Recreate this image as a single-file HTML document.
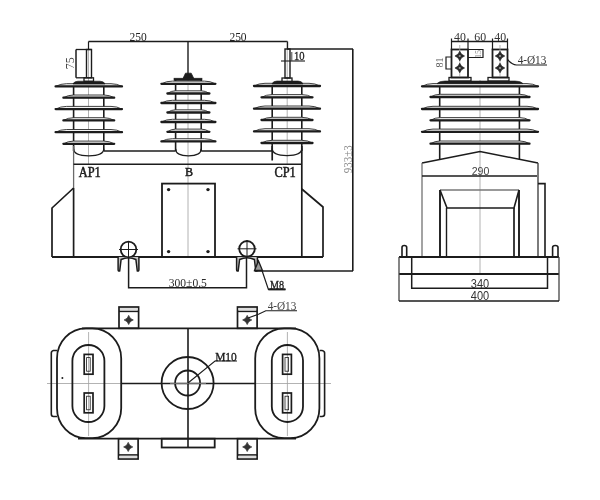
<!DOCTYPE html>
<html><head><meta charset="utf-8"><style>
html,body{margin:0;padding:0;background:#fff;width:600px;height:500px;overflow:hidden}
svg{display:block;filter:grayscale(100%)}
</style></head><body>
<svg width="600" height="500" viewBox="0 0 600 500">
<rect width="600" height="500" fill="#fff"/>
<line x1="88.5" y1="41.5" x2="287.5" y2="41.5" stroke="#1c1c1c" stroke-width="1.4" />
<text x="0" y="0" font-family="Liberation Serif" font-size="12.5" font-weight="normal" text-anchor="middle" fill="#222" transform="translate(138.2 41) scale(0.92 1)" >250</text>
<text x="0" y="0" font-family="Liberation Serif" font-size="12.5" font-weight="normal" text-anchor="middle" fill="#222" transform="translate(238 41) scale(0.92 1)" >250</text>
<line x1="88.5" y1="41.5" x2="88.5" y2="164" stroke="#a0a0a0" stroke-width="0.8" />
<line x1="287.2" y1="41.5" x2="287.2" y2="164" stroke="#a0a0a0" stroke-width="0.8" />
<line x1="188" y1="74" x2="188" y2="257" stroke="#a0a0a0" stroke-width="0.8" />
<line x1="73.6" y1="83" x2="73.6" y2="151" stroke="#1c1c1c" stroke-width="1.6" />
<line x1="103.8" y1="83" x2="103.8" y2="151" stroke="#1c1c1c" stroke-width="1.6" />
<path d="M55.599999999999994,86.4 Q60.55,83.7 66.6,83.7 L111.0,83.7 Q117.05,83.7 122.0,86.4 Z" fill="#f4f4f4" stroke="#2a2a2a" stroke-width="0.9"/>
<path d="M55.599999999999994,86.4 L122.0,86.4" stroke="#1c1c1c" stroke-width="2.3" stroke-linecap="round"/>
<path d="M63.4,97.7 Q68.035,95.0 73.69999999999999,95.0 L103.89999999999999,95.0 Q109.56499999999998,95.0 114.19999999999999,97.7 Z" fill="#f4f4f4" stroke="#2a2a2a" stroke-width="0.9"/>
<path d="M63.4,97.7 L114.19999999999999,97.7" stroke="#1c1c1c" stroke-width="2.3" stroke-linecap="round"/>
<path d="M55.599999999999994,109.1 Q60.55,106.39999999999999 66.6,106.39999999999999 L111.0,106.39999999999999 Q117.05,106.39999999999999 122.0,109.1 Z" fill="#f4f4f4" stroke="#2a2a2a" stroke-width="0.9"/>
<path d="M55.599999999999994,109.1 L122.0,109.1" stroke="#1c1c1c" stroke-width="2.3" stroke-linecap="round"/>
<path d="M63.4,120.4 Q68.035,117.7 73.69999999999999,117.7 L103.89999999999999,117.7 Q109.56499999999998,117.7 114.19999999999999,120.4 Z" fill="#f4f4f4" stroke="#2a2a2a" stroke-width="0.9"/>
<path d="M63.4,120.4 L114.19999999999999,120.4" stroke="#1c1c1c" stroke-width="2.3" stroke-linecap="round"/>
<path d="M55.599999999999994,132.2 Q60.55,129.5 66.6,129.5 L111.0,129.5 Q117.05,129.5 122.0,132.2 Z" fill="#f4f4f4" stroke="#2a2a2a" stroke-width="0.9"/>
<path d="M55.599999999999994,132.2 L122.0,132.2" stroke="#1c1c1c" stroke-width="2.3" stroke-linecap="round"/>
<path d="M63.4,143.8 Q68.035,141.10000000000002 73.69999999999999,141.10000000000002 L103.89999999999999,141.10000000000002 Q109.56499999999998,141.10000000000002 114.19999999999999,143.8 Z" fill="#f4f4f4" stroke="#2a2a2a" stroke-width="0.9"/>
<path d="M63.4,143.8 L114.19999999999999,143.8" stroke="#1c1c1c" stroke-width="2.3" stroke-linecap="round"/>
<path d="M73.6,148.8 C73.6,154.3 80.6,155.8 88.8,155.8 C96.8,155.8 103.8,154.3 103.8,148.8" fill="none" stroke="#1c1c1c" stroke-width="1.3"/>
<rect x="86.5" y="49.5" width="5" height="28.3" fill="none" stroke="#1c1c1c" stroke-width="1.4"/>
<line x1="88.5" y1="41.5" x2="88.5" y2="49.5" stroke="#1c1c1c" stroke-width="1.2" />
<line x1="76" y1="49.5" x2="91.5" y2="49.5" stroke="#1c1c1c" stroke-width="1.3" />
<line x1="76" y1="49.5" x2="76" y2="77.8" stroke="#1c1c1c" stroke-width="1.5" />
<line x1="76" y1="77.8" x2="86" y2="77.8" stroke="#1c1c1c" stroke-width="1.3" />
<text x="0" y="0" font-family="Liberation Serif" font-size="12.5" font-weight="normal" text-anchor="middle" fill="#444" transform="translate(73.6 63.2) rotate(-90) scale(0.95 1)" >75</text>
<rect x="84" y="77.8" width="9.5" height="3.5" fill="none" stroke="#1c1c1c" stroke-width="1.3"/>
<path d="M73,84 Q74,81.2 78,81.2 L100,81.2 Q104,81.2 105,84 Z" fill="#1c1c1c" stroke="#1c1c1c" stroke-width="0.6" />
<line x1="175.6" y1="79" x2="175.6" y2="151" stroke="#1c1c1c" stroke-width="1.6" />
<line x1="201.2" y1="79" x2="201.2" y2="151" stroke="#1c1c1c" stroke-width="1.6" />
<path d="M161.4,83.8 Q166.35,81.1 172.4,81.1 L204.4,81.1 Q210.45000000000002,81.1 215.4,83.8 Z" fill="#f4f4f4" stroke="#2a2a2a" stroke-width="0.9"/>
<path d="M161.4,83.8 L215.4,83.8" stroke="#1c1c1c" stroke-width="2.3" stroke-linecap="round"/>
<path d="M167.4,93.5 Q171.09,90.8 175.60000000000002,90.8 L201.2,90.8 Q205.71,90.8 209.4,93.5 Z" fill="#f4f4f4" stroke="#2a2a2a" stroke-width="0.9"/>
<path d="M167.4,93.5 L209.4,93.5" stroke="#1c1c1c" stroke-width="2.3" stroke-linecap="round"/>
<path d="M161.4,103 Q166.35,100.3 172.4,100.3 L204.4,100.3 Q210.45000000000002,100.3 215.4,103 Z" fill="#f4f4f4" stroke="#2a2a2a" stroke-width="0.9"/>
<path d="M161.4,103 L215.4,103" stroke="#1c1c1c" stroke-width="2.3" stroke-linecap="round"/>
<path d="M167.4,112.5 Q171.09,109.8 175.60000000000002,109.8 L201.2,109.8 Q205.71,109.8 209.4,112.5 Z" fill="#f4f4f4" stroke="#2a2a2a" stroke-width="0.9"/>
<path d="M167.4,112.5 L209.4,112.5" stroke="#1c1c1c" stroke-width="2.3" stroke-linecap="round"/>
<path d="M161.4,122 Q166.35,119.3 172.4,119.3 L204.4,119.3 Q210.45000000000002,119.3 215.4,122 Z" fill="#f4f4f4" stroke="#2a2a2a" stroke-width="0.9"/>
<path d="M161.4,122 L215.4,122" stroke="#1c1c1c" stroke-width="2.3" stroke-linecap="round"/>
<path d="M167.4,131.8 Q171.09,129.10000000000002 175.60000000000002,129.10000000000002 L201.2,129.10000000000002 Q205.71,129.10000000000002 209.4,131.8 Z" fill="#f4f4f4" stroke="#2a2a2a" stroke-width="0.9"/>
<path d="M167.4,131.8 L209.4,131.8" stroke="#1c1c1c" stroke-width="2.3" stroke-linecap="round"/>
<path d="M161.4,141.4 Q166.35,138.70000000000002 172.4,138.70000000000002 L204.4,138.70000000000002 Q210.45000000000002,138.70000000000002 215.4,141.4 Z" fill="#f4f4f4" stroke="#2a2a2a" stroke-width="0.9"/>
<path d="M161.4,141.4 L215.4,141.4" stroke="#1c1c1c" stroke-width="2.3" stroke-linecap="round"/>
<path d="M175.6,148.8 C175.6,154.3 182.6,155.8 188.4,155.8 C194.2,155.8 201.2,154.3 201.2,148.8" fill="none" stroke="#1c1c1c" stroke-width="1.3"/>
<line x1="188" y1="41.5" x2="188" y2="74" stroke="#1c1c1c" stroke-width="1.4" />
<path d="M183,78.5 L185.5,73.2 L191.2,73.2 L193.8,78.5 Z" fill="#1c1c1c" stroke="#1c1c1c" stroke-width="0.8" />
<rect x="174" y="78.2" width="28" height="2.2" fill="#1c1c1c" stroke="#1c1c1c" stroke-width="0.6"/>
<line x1="272.2" y1="83" x2="272.2" y2="151" stroke="#1c1c1c" stroke-width="1.6" />
<line x1="301.8" y1="83" x2="301.8" y2="151" stroke="#1c1c1c" stroke-width="1.6" />
<path d="M254,86 Q258.95,83.3 265,83.3 L309,83.3 Q315.05,83.3 320,86 Z" fill="#f4f4f4" stroke="#2a2a2a" stroke-width="0.9"/>
<path d="M254,86 L320,86" stroke="#1c1c1c" stroke-width="2.3" stroke-linecap="round"/>
<path d="M261.5,97.3 Q266.315,94.6 272.2,94.6 L301.8,94.6 Q307.685,94.6 312.5,97.3 Z" fill="#f4f4f4" stroke="#2a2a2a" stroke-width="0.9"/>
<path d="M261.5,97.3 L312.5,97.3" stroke="#1c1c1c" stroke-width="2.3" stroke-linecap="round"/>
<path d="M254,108.7 Q258.95,106.0 265,106.0 L309,106.0 Q315.05,106.0 320,108.7 Z" fill="#f4f4f4" stroke="#2a2a2a" stroke-width="0.9"/>
<path d="M254,108.7 L320,108.7" stroke="#1c1c1c" stroke-width="2.3" stroke-linecap="round"/>
<path d="M261.5,120 Q266.315,117.3 272.2,117.3 L301.8,117.3 Q307.685,117.3 312.5,120 Z" fill="#f4f4f4" stroke="#2a2a2a" stroke-width="0.9"/>
<path d="M261.5,120 L312.5,120" stroke="#1c1c1c" stroke-width="2.3" stroke-linecap="round"/>
<path d="M254,131.4 Q258.95,128.70000000000002 265,128.70000000000002 L309,128.70000000000002 Q315.05,128.70000000000002 320,131.4 Z" fill="#f4f4f4" stroke="#2a2a2a" stroke-width="0.9"/>
<path d="M254,131.4 L320,131.4" stroke="#1c1c1c" stroke-width="2.3" stroke-linecap="round"/>
<path d="M261.5,143 Q266.315,140.3 272.2,140.3 L301.8,140.3 Q307.685,140.3 312.5,143 Z" fill="#f4f4f4" stroke="#2a2a2a" stroke-width="0.9"/>
<path d="M261.5,143 L312.5,143" stroke="#1c1c1c" stroke-width="2.3" stroke-linecap="round"/>
<path d="M272.2,148.6 C272.2,154.1 279.2,155.6 287,155.6 C294.8,155.6 301.8,154.1 301.8,148.6" fill="none" stroke="#1c1c1c" stroke-width="1.3"/>
<line x1="287.5" y1="41.5" x2="287.5" y2="49.5" stroke="#1c1c1c" stroke-width="1.3" />
<rect x="285" y="49" width="5" height="29" fill="none" stroke="#1c1c1c" stroke-width="1.4"/>
<line x1="287.5" y1="49" x2="353" y2="49" stroke="#1c1c1c" stroke-width="1.3" />
<line x1="281" y1="61" x2="305" y2="61" stroke="#1c1c1c" stroke-width="1.1" />
<text x="0" y="0" font-family="Liberation Serif" font-size="11.5" font-weight="normal" text-anchor="middle" fill="#222" stroke="#222" stroke-width="0.3" transform="translate(299.2 60.4) scale(0.92 1)" >10</text>
<line x1="291.8" y1="52" x2="291.8" y2="61" stroke="#444" stroke-width="1.0" />
<rect x="282" y="78" width="10" height="4" fill="none" stroke="#1c1c1c" stroke-width="1.3"/>
<path d="M272,84 Q273,81 277,81 L298,81 Q302,81 303,84 Z" fill="#1c1c1c" stroke="#1c1c1c" stroke-width="0.6" />
<line x1="103.8" y1="151" x2="175.6" y2="151" stroke="#1c1c1c" stroke-width="1.6" />
<line x1="201.2" y1="151" x2="272.2" y2="151" stroke="#1c1c1c" stroke-width="1.6" />
<line x1="73.6" y1="146" x2="73.6" y2="188" stroke="#6a6a6a" stroke-width="1.3" />
<line x1="73.6" y1="188" x2="73.6" y2="257" stroke="#1c1c1c" stroke-width="1.7" />
<line x1="272.2" y1="146" x2="272.2" y2="160.5" stroke="#1c1c1c" stroke-width="1.7" />
<line x1="73.6" y1="164.3" x2="301.8" y2="164.3" stroke="#1c1c1c" stroke-width="1.6" />
<line x1="301.8" y1="146" x2="301.8" y2="257" stroke="#1c1c1c" stroke-width="1.7" />
<text x="0" y="0" font-family="Liberation Serif" font-size="13.8" font-weight="normal" text-anchor="middle" fill="#1a1a1a" stroke="#1a1a1a" stroke-width="0.5" transform="translate(89.7 177) scale(0.9 1)" >AP1</text>
<text x="0" y="0" font-family="Liberation Serif" font-size="13.4" font-weight="normal" text-anchor="middle" fill="#1a1a1a" stroke="#1a1a1a" stroke-width="0.5" transform="translate(189.1 176.3) scale(0.9 1)" >B</text>
<text x="0" y="0" font-family="Liberation Serif" font-size="13.8" font-weight="normal" text-anchor="middle" fill="#1a1a1a" stroke="#1a1a1a" stroke-width="0.5" transform="translate(285.1 177.2) scale(0.9 1)" >CP1</text>
<polyline points="73.6,188 52,208 52,257" fill="none" stroke="#1c1c1c" stroke-width="1.7"/>
<polyline points="301.8,189 323,207 323,257" fill="none" stroke="#1c1c1c" stroke-width="1.7"/>
<line x1="52" y1="257" x2="323" y2="257" stroke="#1c1c1c" stroke-width="1.8" />
<rect x="162" y="183.6" width="53" height="73.4" fill="none" stroke="#1c1c1c" stroke-width="1.8"/>
<circle cx="168.6" cy="189.6" r="1.7" fill="#1c1c1c" stroke="#1c1c1c" stroke-width="0"/>
<circle cx="208" cy="189.6" r="1.7" fill="#1c1c1c" stroke="#1c1c1c" stroke-width="0"/>
<circle cx="168.6" cy="251.6" r="1.7" fill="#1c1c1c" stroke="#1c1c1c" stroke-width="0"/>
<circle cx="208" cy="251.6" r="1.7" fill="#1c1c1c" stroke="#1c1c1c" stroke-width="0"/>
<circle cx="128.5" cy="249.5" r="7.8" fill="#fff" stroke="#1c1c1c" stroke-width="1.8"/>
<line x1="119.0" y1="249.5" x2="138.0" y2="249.5" stroke="#1c1c1c" stroke-width="1.0" />
<line x1="128.5" y1="241.0" x2="128.5" y2="258.0" stroke="#1c1c1c" stroke-width="1.0" />
<path d="M118.1,257 L118.1,269.5 Q118.1,271.5 119.7,271 L121.1,259.5 Q128.5,256 135.9,259.5 L137.3,271 Q138.9,271.5 138.9,269.5 L138.9,257" fill="#c4c4c4" stroke="#1c1c1c" stroke-width="1.5"/>
<circle cx="247" cy="248.8" r="7.8" fill="#fff" stroke="#1c1c1c" stroke-width="1.8"/>
<line x1="237.5" y1="248.8" x2="256.5" y2="248.8" stroke="#1c1c1c" stroke-width="1.0" />
<line x1="247" y1="240.3" x2="247" y2="257.3" stroke="#1c1c1c" stroke-width="1.0" />
<path d="M236.6,257 L236.6,269.5 Q236.6,271.5 238.2,271 L239.6,259.5 Q247,256 254.4,259.5 L255.8,271 Q257.4,271.5 257.4,269.5 L257.4,257" fill="#c4c4c4" stroke="#1c1c1c" stroke-width="1.5"/>
<polyline points="128.6,257 128.6,287.8 246.5,287.8 246.5,257" fill="none" stroke="#1c1c1c" stroke-width="1.5"/>
<text x="0" y="0" font-family="Liberation Serif" font-size="12.6" font-weight="normal" text-anchor="middle" fill="#2a2a2a" transform="translate(187.8 287) scale(0.92 1)" >300±0.5</text>
<path d="M254.5,270.5 L258.5,261 L262.5,270.5 Z" fill="#999" stroke="#1c1c1c" stroke-width="1.3" />
<polyline points="262,270.5 268.4,289.4 285.5,289.4" fill="none" stroke="#1c1c1c" stroke-width="1.2"/>
<line x1="268.4" y1="289.4" x2="285.5" y2="289.4" stroke="#1c1c1c" stroke-width="2.0" />
<text x="0" y="0" font-family="Liberation Serif" font-size="11.5" font-weight="normal" text-anchor="middle" fill="#222" stroke="#222" stroke-width="0.3" transform="translate(277 288.6) scale(0.88 1)" >M8</text>
<line x1="254.5" y1="270.9" x2="353" y2="270.9" stroke="#1c1c1c" stroke-width="1.5" />
<line x1="352.8" y1="49" x2="352.8" y2="270.9" stroke="#1c1c1c" stroke-width="1.6" />
<text x="0" y="0" font-family="Liberation Serif" font-size="12" font-weight="normal" text-anchor="middle" fill="#8a8a8a" transform="translate(351.6 159.3) rotate(-90) scale(0.92 1)" >933±3</text>
<line x1="47" y1="383.5" x2="331" y2="383.5" stroke="#a0a0a0" stroke-width="0.8" />
<line x1="88.6" y1="332" x2="88.6" y2="436" stroke="#a0a0a0" stroke-width="0.8" />
<line x1="287.4" y1="332" x2="287.4" y2="436" stroke="#a0a0a0" stroke-width="0.8" />
<line x1="82" y1="328.3" x2="296" y2="328.3" stroke="#1c1c1c" stroke-width="1.8" />
<line x1="78" y1="438.7" x2="296" y2="438.7" stroke="#1c1c1c" stroke-width="1.8" />
<line x1="121.6" y1="383.5" x2="255" y2="383.5" stroke="#1c1c1c" stroke-width="1.6" />
<line x1="188" y1="328.3" x2="188" y2="447.5" stroke="#1c1c1c" stroke-width="1.6" />
<rect x="57" y="328.4" width="64.2" height="109.80000000000001" rx="29" ry="30" fill="none" stroke="#1c1c1c" stroke-width="1.8"/>
<path d="M72.4,361.0 A16.0,16.0 0 0 1 104.4,361.0 L104.4,406.0 A16.0,16.0 0 0 1 72.4,406.0 Z" fill="none" stroke="#1c1c1c" stroke-width="1.8"/>
<path d="M57,350.5 L53.5,350.5 Q51.3,351 51.3,353 L51.3,414 Q51.3,416.5 53.5,416.5 L57,416.5" fill="none" stroke="#1c1c1c" stroke-width="1.6" />
<rect x="84.2" y="354.4" width="8.8" height="19.8" fill="none" stroke="#1c1c1c" stroke-width="1.7"/>
<rect x="86.6" y="357.59999999999997" width="3.6" height="13.6" fill="none" stroke="#1c1c1c" stroke-width="0.8"/>
<rect x="84.2" y="393" width="8.8" height="19.8" fill="none" stroke="#1c1c1c" stroke-width="1.7"/>
<rect x="86.6" y="396.2" width="3.6" height="13.6" fill="none" stroke="#1c1c1c" stroke-width="0.8"/>
<circle cx="62.4" cy="378" r="1.0" fill="#1c1c1c" stroke="#1c1c1c" stroke-width="0"/>
<rect x="255.2" y="328.4" width="64.19999999999999" height="109.80000000000001" rx="29" ry="30" fill="none" stroke="#1c1c1c" stroke-width="1.8"/>
<path d="M271.8,360.6 A15.599999999999994,15.599999999999994 0 0 1 303,360.6 L303,406.4 A15.599999999999994,15.599999999999994 0 0 1 271.8,406.4 Z" fill="none" stroke="#1c1c1c" stroke-width="1.8"/>
<path d="M319.6,350.5 L322,350.5 Q324.6,351 324.6,353 L324.6,414 Q324.6,416.5 322,416.5 L319.6,416.5" fill="none" stroke="#1c1c1c" stroke-width="1.6" />
<rect x="282.6" y="354.4" width="8.8" height="19.8" fill="none" stroke="#1c1c1c" stroke-width="1.7"/>
<rect x="285.0" y="357.59999999999997" width="3.6" height="13.6" fill="none" stroke="#1c1c1c" stroke-width="0.8"/>
<rect x="282.6" y="393" width="8.8" height="19.8" fill="none" stroke="#1c1c1c" stroke-width="1.7"/>
<rect x="285.0" y="396.2" width="3.6" height="13.6" fill="none" stroke="#1c1c1c" stroke-width="0.8"/>
<circle cx="187.6" cy="383" r="26" fill="none" stroke="#1c1c1c" stroke-width="1.8"/>
<circle cx="187.6" cy="383" r="12.5" fill="none" stroke="#1c1c1c" stroke-width="1.8"/>
<line x1="170" y1="383.3" x2="206" y2="383.3" stroke="#a0a0a0" stroke-width="0.8" />
<polyline points="188,383 215,361 237,361" fill="none" stroke="#1c1c1c" stroke-width="1.1"/>
<text x="0" y="0" font-family="Liberation Serif" font-size="13.5" font-weight="normal" text-anchor="middle" fill="#1a1a1a" stroke="#1a1a1a" stroke-width="0.35" transform="translate(226 361) scale(0.85 1)" >M10</text>
<rect x="161.7" y="438.7" width="53" height="8.8" fill="none" stroke="#1c1c1c" stroke-width="1.8"/>
<rect x="119" y="307" width="19.6" height="21.30000000000001" fill="none" stroke="#1c1c1c" stroke-width="1.7"/>
<line x1="119" y1="311.3" x2="138.6" y2="311.3" stroke="#1c1c1c" stroke-width="1.7" />
<rect x="120" y="308" width="17.6" height="2.6" fill="#ddd"/>
<path d="M124.1,319.95 Q127.69999999999999,318.95 128.7,315.34999999999997 Q129.7,318.95 133.29999999999998,319.95 Q129.7,320.95 128.7,324.55 Q127.69999999999999,320.95 124.1,319.95 Z" fill="#333" stroke="#1c1c1c" stroke-width="0.6" />
<rect x="237.5" y="307" width="19.6" height="21.30000000000001" fill="none" stroke="#1c1c1c" stroke-width="1.7"/>
<line x1="237.5" y1="311.3" x2="257.1" y2="311.3" stroke="#1c1c1c" stroke-width="1.7" />
<rect x="238.5" y="308" width="17.6" height="2.6" fill="#ddd"/>
<path d="M242.6,319.95 Q246.2,318.95 247.2,315.34999999999997 Q248.2,318.95 251.79999999999998,319.95 Q248.2,320.95 247.2,324.55 Q246.2,320.95 242.6,319.95 Z" fill="#333" stroke="#1c1c1c" stroke-width="0.6" />
<rect x="118.5" y="438.7" width="19.6" height="20.30000000000001" fill="none" stroke="#1c1c1c" stroke-width="1.7"/>
<line x1="118.5" y1="455.0" x2="138.1" y2="455.0" stroke="#1c1c1c" stroke-width="1.7" />
<rect x="119.5" y="455.7" width="17.6" height="2.4" fill="#ddd"/>
<path d="M123.6,446.95000000000005 Q127.19999999999999,445.95000000000005 128.2,442.35 Q129.2,445.95000000000005 132.79999999999998,446.95000000000005 Q129.2,447.95000000000005 128.2,451.55000000000007 Q127.19999999999999,447.95000000000005 123.6,446.95000000000005 Z" fill="#333" stroke="#1c1c1c" stroke-width="0.6" />
<rect x="237.5" y="438.7" width="19.6" height="20.30000000000001" fill="none" stroke="#1c1c1c" stroke-width="1.7"/>
<line x1="237.5" y1="455.0" x2="257.1" y2="455.0" stroke="#1c1c1c" stroke-width="1.7" />
<rect x="238.5" y="455.7" width="17.6" height="2.4" fill="#ddd"/>
<path d="M242.6,446.95000000000005 Q246.2,445.95000000000005 247.2,442.35 Q248.2,445.95000000000005 251.79999999999998,446.95000000000005 Q248.2,447.95000000000005 247.2,451.55000000000007 Q246.2,447.95000000000005 242.6,446.95000000000005 Z" fill="#333" stroke="#1c1c1c" stroke-width="0.6" />
<polyline points="248,318 259,314 265.8,310.8 297,310.8" fill="none" stroke="#1c1c1c" stroke-width="1.1"/>
<text x="0" y="0" font-family="Liberation Serif" font-size="12.5" font-weight="normal" text-anchor="middle" fill="#444" transform="translate(282 310.3) scale(0.9 1)" >4-Ø13</text>
<line x1="480" y1="80" x2="480" y2="274" stroke="#a0a0a0" stroke-width="0.8" />
<line x1="451.5" y1="41.5" x2="507.5" y2="41.5" stroke="#1c1c1c" stroke-width="1.3" />
<line x1="451.5" y1="38.5" x2="451.5" y2="50" stroke="#1c1c1c" stroke-width="1.2" />
<line x1="468" y1="38.5" x2="468" y2="50" stroke="#1c1c1c" stroke-width="1.2" />
<line x1="492.5" y1="38.5" x2="492.5" y2="50" stroke="#1c1c1c" stroke-width="1.2" />
<line x1="507.5" y1="38.5" x2="507.5" y2="50" stroke="#1c1c1c" stroke-width="1.2" />
<text x="0" y="0" font-family="Liberation Serif" font-size="12.5" font-weight="normal" text-anchor="middle" fill="#333" transform="translate(460 41) scale(0.95 1)" >40</text>
<text x="0" y="0" font-family="Liberation Serif" font-size="12.5" font-weight="normal" text-anchor="middle" fill="#333" transform="translate(480.3 41) scale(0.95 1)" >60</text>
<text x="0" y="0" font-family="Liberation Serif" font-size="12.5" font-weight="normal" text-anchor="middle" fill="#333" transform="translate(500.3 41) scale(0.95 1)" >40</text>
<rect x="451.5" y="49.5" width="16.5" height="28" fill="none" stroke="#1c1c1c" stroke-width="1.8"/>
<line x1="459.75" y1="45" x2="459.75" y2="78" stroke="#a0a0a0" stroke-width="0.8" />
<path d="M454.95,56 Q458.55,54.8 459.75,51.2 Q460.95,54.8 464.55,56 Q460.95,57.2 459.75,60.8 Q458.55,57.2 454.95,56 Z" fill="#2a2a2a" stroke="#1c1c1c" stroke-width="0.6" />
<circle cx="459.75" cy="56" r="1.1" fill="#999" stroke="#1c1c1c" stroke-width="0"/>
<path d="M454.95,68 Q458.55,66.8 459.75,63.2 Q460.95,66.8 464.55,68 Q460.95,69.2 459.75,72.8 Q458.55,69.2 454.95,68 Z" fill="#2a2a2a" stroke="#1c1c1c" stroke-width="0.6" />
<circle cx="459.75" cy="68" r="1.1" fill="#999" stroke="#1c1c1c" stroke-width="0"/>
<rect x="492.5" y="49.5" width="15.0" height="28" fill="none" stroke="#1c1c1c" stroke-width="1.8"/>
<line x1="500.0" y1="45" x2="500.0" y2="78" stroke="#a0a0a0" stroke-width="0.8" />
<path d="M495.2,56 Q498.8,54.8 500.0,51.2 Q501.2,54.8 504.8,56 Q501.2,57.2 500.0,60.8 Q498.8,57.2 495.2,56 Z" fill="#2a2a2a" stroke="#1c1c1c" stroke-width="0.6" />
<circle cx="500.0" cy="56" r="1.1" fill="#999" stroke="#1c1c1c" stroke-width="0"/>
<path d="M495.2,68 Q498.8,66.8 500.0,63.2 Q501.2,66.8 504.8,68 Q501.2,69.2 500.0,72.8 Q498.8,69.2 495.2,68 Z" fill="#2a2a2a" stroke="#1c1c1c" stroke-width="0.6" />
<circle cx="500.0" cy="68" r="1.1" fill="#999" stroke="#1c1c1c" stroke-width="0"/>
<polyline points="451.5,57 446,57 446,69 451.5,69" fill="none" stroke="#1c1c1c" stroke-width="1.2"/>
<text x="0" y="0" font-family="Liberation Serif" font-size="9.5" font-weight="normal" text-anchor="middle" fill="#555" transform="translate(442.6 62.5) rotate(-90) scale(1.05 1)" >81</text>
<polyline points="468,49.5 483,49.5 483,57.5 468,57.5" fill="none" stroke="#1c1c1c" stroke-width="1.2"/>
<text x="0" y="0" font-family="Liberation Serif" font-size="8" font-weight="normal" text-anchor="middle" fill="#888" transform="translate(481 54) rotate(-90)" >15</text>
<path d="M507.5,59.5 Q512,64.5 516.5,65 L547,65" fill="none" stroke="#1c1c1c" stroke-width="1.2" />
<text x="0" y="0" font-family="Liberation Serif" font-size="12.5" font-weight="normal" text-anchor="middle" fill="#333" transform="translate(532 64) scale(0.9 1)" >4-Ø13</text>
<rect x="449" y="77.5" width="22" height="3.5" fill="none" stroke="#1c1c1c" stroke-width="1.3"/>
<rect x="488" y="77.5" width="21" height="3.5" fill="none" stroke="#1c1c1c" stroke-width="1.3"/>
<line x1="439.7" y1="84" x2="439.7" y2="159" stroke="#1c1c1c" stroke-width="1.6" />
<line x1="519.4" y1="84" x2="519.4" y2="159" stroke="#1c1c1c" stroke-width="1.6" />
<path d="M422,86.3 Q426.95,83.6 433,83.6 L527,83.6 Q533.05,83.6 538,86.3 Z" fill="#f4f4f4" stroke="#2a2a2a" stroke-width="0.9"/>
<path d="M422,86.3 L538,86.3" stroke="#1c1c1c" stroke-width="2.3" stroke-linecap="round"/>
<path d="M430.5,97 Q434.8425,94.3 440.15,94.3 L519.85,94.3 Q525.1575,94.3 529.5,97 Z" fill="#f4f4f4" stroke="#2a2a2a" stroke-width="0.9"/>
<path d="M430.5,97 L529.5,97" stroke="#1c1c1c" stroke-width="2.3" stroke-linecap="round"/>
<path d="M422,109 Q426.95,106.3 433,106.3 L527,106.3 Q533.05,106.3 538,109 Z" fill="#f4f4f4" stroke="#2a2a2a" stroke-width="0.9"/>
<path d="M422,109 L538,109" stroke="#1c1c1c" stroke-width="2.3" stroke-linecap="round"/>
<path d="M430.5,120.3 Q434.8425,117.6 440.15,117.6 L519.85,117.6 Q525.1575,117.6 529.5,120.3 Z" fill="#f4f4f4" stroke="#2a2a2a" stroke-width="0.9"/>
<path d="M430.5,120.3 L529.5,120.3" stroke="#1c1c1c" stroke-width="2.3" stroke-linecap="round"/>
<path d="M422,131.8 Q426.95,129.10000000000002 433,129.10000000000002 L527,129.10000000000002 Q533.05,129.10000000000002 538,131.8 Z" fill="#f4f4f4" stroke="#2a2a2a" stroke-width="0.9"/>
<path d="M422,131.8 L538,131.8" stroke="#1c1c1c" stroke-width="2.3" stroke-linecap="round"/>
<path d="M430.5,143.7 Q434.8425,141.0 440.15,141.0 L519.85,141.0 Q525.1575,141.0 529.5,143.7 Z" fill="#f4f4f4" stroke="#2a2a2a" stroke-width="0.9"/>
<path d="M430.5,143.7 L529.5,143.7" stroke="#1c1c1c" stroke-width="2.3" stroke-linecap="round"/>
<path d="M437,83.6 Q439,81 445,81 L515,81 Q521,81 523,83.6 Z" fill="#1c1c1c" stroke="#1c1c1c" stroke-width="0.6" />
<polyline points="422,163 480,151.5 538,163" fill="none" stroke="#1c1c1c" stroke-width="1.6"/>
<line x1="422" y1="163" x2="422" y2="257" stroke="#666" stroke-width="1.2" />
<line x1="538" y1="163" x2="538" y2="257" stroke="#444" stroke-width="1.4" />
<line x1="422" y1="176" x2="537" y2="176" stroke="#1c1c1c" stroke-width="1.4" />
<text x="0" y="0" font-family="Liberation Sans" font-size="11.5" font-weight="normal" text-anchor="middle" fill="#444" transform="translate(480.5 175.3) scale(0.92 1)" >290</text>
<line x1="440" y1="190" x2="440" y2="257" stroke="#1c1c1c" stroke-width="1.9" />
<line x1="519" y1="190" x2="519" y2="257" stroke="#1c1c1c" stroke-width="1.9" />
<line x1="440" y1="190" x2="519" y2="190" stroke="#777" stroke-width="1.3" />
<polyline points="440,190 447,208 514,208 519,190" fill="none" stroke="#1c1c1c" stroke-width="1.6"/>
<line x1="446.5" y1="208" x2="446.5" y2="257" stroke="#1c1c1c" stroke-width="1.4" />
<line x1="514" y1="208" x2="514" y2="257" stroke="#1c1c1c" stroke-width="1.7" />
<polyline points="538,183.6 545,183.6 545,257" fill="none" stroke="#1c1c1c" stroke-width="1.6"/>
<path d="M402,257 L402,247.5 Q402,245.5 404.3,245.5 Q406.7,245.5 406.7,247.5 L406.7,257" fill="none" stroke="#1c1c1c" stroke-width="1.6" />
<path d="M552.6,257 L552.6,247.5 Q552.6,245.5 555.3,245.5 Q558,245.5 558,247.5 L558,257" fill="none" stroke="#1c1c1c" stroke-width="1.6" />
<line x1="399" y1="257" x2="559" y2="257" stroke="#1c1c1c" stroke-width="1.9" />
<line x1="399" y1="274" x2="559" y2="274" stroke="#1c1c1c" stroke-width="1.9" />
<polyline points="411.7,257 411.7,288.3 547.5,288.3 547.5,257" fill="none" stroke="#1c1c1c" stroke-width="1.5"/>
<line x1="399" y1="257" x2="399" y2="301" stroke="#444" stroke-width="1.3" />
<line x1="559" y1="257" x2="559" y2="301" stroke="#444" stroke-width="1.3" />
<line x1="399" y1="301" x2="559" y2="301" stroke="#1c1c1c" stroke-width="1.5" />
<text x="0" y="0" font-family="Liberation Sans" font-size="12" font-weight="normal" text-anchor="middle" fill="#333" transform="translate(480 287.6) scale(0.92 1)" >340</text>
<text x="0" y="0" font-family="Liberation Sans" font-size="12" font-weight="normal" text-anchor="middle" fill="#333" transform="translate(480 300.2) scale(0.92 1)" >400</text>
</svg>
</body></html>
